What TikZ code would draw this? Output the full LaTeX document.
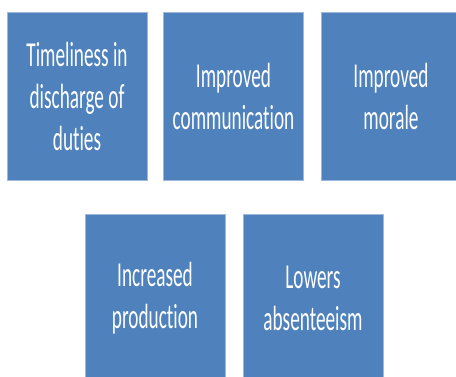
\documentclass[tikz,border=0pt]{standalone}
\usepackage{fontspec}
\usepackage{xcolor}
\newfontfamily\boxfont[FakeStretch=0.55,RawFeature=-liga]{Carlito}
\definecolor{boxblue}{HTML}{4F81BD}
\definecolor{boxedge}{HTML}{9DB7DD}

\begin{document}
\begin{tikzpicture}[x=1pt,y=-1pt,
	box/.style={draw=boxedge,line width=0.6pt,fill=boxblue,minimum width=140pt,minimum height=168pt,
		inner sep=0pt,text width=136pt,align=flush center,text=white,
		font=\boxfont\fontsize{35}{42}\selectfont}]
			\useasboundingbox (0,0) rectangle (456,377);
			\clip (0,0) rectangle (456,377);
			% Top row
			\node[box] (timeliness) at (77,96) {Timeliness in\\discharge of\\duties};
			\node[box] (communication) at (233.5,96) {Improved\\communication};
			\node[box] (morale) at (391,96) {Improved\\morale};
			% Bottom row
			\node[box] (production) at (155,298) {Increased\\production};
			\node[box] (absenteeism) at (313,298) {Lowers\\absenteeism};
		\end{tikzpicture}
\end{document}
